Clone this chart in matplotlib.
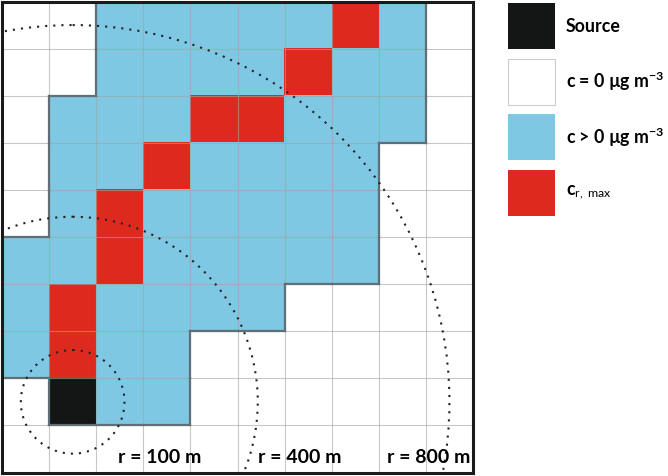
import numpy as np
import matplotlib
matplotlib.use("Agg")
import matplotlib.pyplot as plt
from matplotlib.colors import ListedColormap
from matplotlib.collections import LineCollection
from matplotlib.patches import Circle, Rectangle

plt.rcParams['font.family'] = ['Lato', 'DejaVu Sans']
plt.rcParams['mathtext.fontset'] = 'custom'
plt.rcParams['mathtext.rm'] = 'Lato'
plt.rcParams['mathtext.bf'] = 'Lato:bold'
plt.rcParams['mathtext.it'] = 'Lato:italic'

# 0 = c = 0, 1 = c > 0, 2 = c_r,max, 3 = source  (rows from top)
cells = np.array([
    [0, 0, 1, 1, 1, 1, 1, 2, 1, 0],
    [0, 0, 1, 1, 1, 1, 2, 1, 1, 0],
    [0, 1, 1, 1, 2, 2, 1, 1, 1, 0],
    [0, 1, 1, 2, 1, 1, 1, 1, 0, 0],
    [0, 1, 2, 1, 1, 1, 1, 1, 0, 0],
    [1, 1, 2, 1, 1, 1, 1, 1, 0, 0],
    [1, 2, 1, 1, 1, 1, 0, 0, 0, 0],
    [1, 2, 1, 1, 0, 0, 0, 0, 0, 0],
    [0, 3, 1, 1, 0, 0, 0, 0, 0, 0],
    [0, 0, 0, 0, 0, 0, 0, 0, 0, 0],
])
source_cell = (1.5, 8.5)               # centre of the source cell (x, y)
circle_radius = [1.1, 3.93, 8.0]       # in cells
circle_labels = ["r = 100 m", "r = 400 m", "r = 800 m"]
label_x = [2.46, 5.43, 8.17]

legend_labels = ["Source", "c = 0 µg m$^{\\mathbf{-3}}$",
                 "c > 0 µg m$^{\\mathbf{-3}}$", "c$_{\\mathrm{r,\\ max}}$"]
colors = ["#ffffff", "#7ec8e3", "#de2a1e", "#141616"]
legend_colors = [colors[3], colors[0], colors[1], colors[2]]

fig = plt.figure(figsize=(6.68, 4.77), dpi=100)
ax = fig.add_axes([2 / 668, 3 / 477, 471 / 668, 472 / 477])

n = cells.shape[0]
ax.imshow(cells, cmap=ListedColormap(colors), vmin=-0.5, vmax=3.5,
          extent=(0, n, n, 0), interpolation='nearest', zorder=1)

# grid
for k in range(1, n):
    ax.axhline(k, color='#a3a3a3', alpha=0.6, lw=0.8, zorder=2)
    ax.axvline(k, color='#a3a3a3', alpha=0.6, lw=0.8, zorder=2)

# outline of the c > 0 area
mask = cells > 0
segs = []
for r in range(n):
    for c in range(n):
        if not mask[r, c]:
            continue
        if r == 0 or not mask[r - 1, c]:
            segs.append([(c, r), (c + 1, r)])
        if r == n - 1 or not mask[r + 1, c]:
            segs.append([(c, r + 1), (c + 1, r + 1)])
        if c == 0 or not mask[r, c - 1]:
            segs.append([(c, r), (c, r + 1)])
        if c == n - 1 or not mask[r, c + 1]:
            segs.append([(c + 1, r), (c + 1, r + 1)])
ax.add_collection(LineCollection(segs, colors='#5f6f75', linewidths=1.6,
                                 capstyle='projecting', zorder=3))

for rad in circle_radius:
    ax.add_patch(Circle(source_cell, rad, fill=False, ec='#222222', lw=1.5,
                        linestyle=(0, (1, 2.9)), zorder=4))

for x, lab in zip(label_x, circle_labels):
    ax.text(x, 9.66, lab, ha='left', va='center', fontsize=14,
            fontweight='bold', color='black', zorder=5)

ax.set_xlim(0, n)
ax.set_ylim(n, 0)
ax.set_xticks([])
ax.set_yticks([])
for sp in ax.spines.values():
    sp.set_linewidth(2.2)
    sp.set_color('#1a1a1a')
    sp.set_zorder(6)

# legend, drawn in pixel coordinates on the right
lax = fig.add_axes([0, 0, 1, 1])
lax.set_xlim(0, 668)
lax.set_ylim(477, 0)
lax.axis('off')
for i, (lab, col) in enumerate(zip(legend_labels, legend_colors)):
    y0 = 4 + i * 55.5
    lax.add_patch(Rectangle((508, y0), 47, 46, fc=col,
                            ec='#cccccc' if col == '#ffffff' else 'none', lw=0.8))
    lax.text(566, y0 + 22, lab, ha='left', va='center', fontsize=12.8,
             fontweight='bold', color='black')

fig.savefig("out.png", dpi=100)
